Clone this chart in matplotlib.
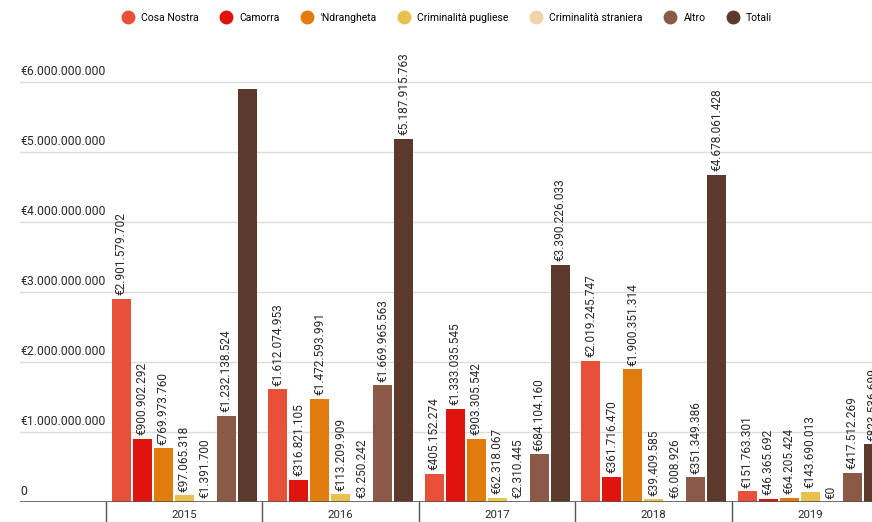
import numpy as np
import matplotlib
matplotlib.use("Agg")
from matplotlib import pyplot as plt
from matplotlib import font_manager
from matplotlib.lines import Line2D
import matplotlib.transforms as mtransforms

# pick a narrow-ish font if available
names = set(f.name for f in font_manager.fontManager.ttflist)
fam = ['Liberation Sans Narrow', 'DejaVu Sans'] if 'Liberation Sans Narrow' in names else ['Roboto', 'DejaVu Sans']
plt.rcParams['font.family'] = fam

years = ['2015', '2016', '2017', '2018', '2019']
series = ['Cosa Nostra', 'Camorra', "'Ndrangheta", 'Criminalità pugliese',
          'Criminalità straniera', 'Altro', 'Totali']
colors = ['#e8503a', '#e0140f', '#e07b0c', '#e8c14f', '#f2d2aa', '#8b5a47', '#5b3a2b']

cosa_nostra = [2901579702, 1612074953, 405152274, 2019245747, 151763301]
camorra = [900902292, 316821105, 1333035545, 361716470, 46365692]
ndrangheta = [769973760, 1472593991, 903305542, 1900351314, 64205424]
pugliese = [97065318, 113209909, 62318067, 39409585, 143690013]
straniera = [1391700, 3250242, 2310445, 6008926, 0]
altro = [1232138524, 1669965563, 684104160, 351349386, 417512269]
totali = [5903051296, 5187915763, 3390226033, 4678061428, 823536699]
values = [cosa_nostra, camorra, ndrangheta, pugliese, straniera, altro, totali]

# Totali 2015 label is not visible in the original
hide_label = {(6, 0)}

yticks = [0, 1e9, 2e9, 3e9, 4e9, 5e9, 6e9]
ytick_labels = ['0', '€1.000.000.000', '€2.000.000.000', '€3.000.000.000',
                '€4.000.000.000', '€5.000.000.000', '€6.000.000.000']


def euro(v):
    return '€' + f'{int(v):,}'.replace(',', '.')


fig = plt.figure(figsize=(8.72, 5.22), dpi=100)
ax = fig.add_axes((20 / 872, 20 / 522, 1 - 20 / 872, 462 / 522))

x = np.arange(len(years))
step = 0.1342
width = 0.121
txtcol = '#2a2a2a'

for i, (name, vals) in enumerate(zip(series, values)):
    xs = x + (i - 3) * step
    ax.bar(xs, vals, width=width, color=colors[i], zorder=3, clip_on=True)
    for j, v in enumerate(vals):
        if (i, j) in hide_label:
            continue
        ax.annotate(euro(v), (xs[j], v), xytext=(0, 2.5), textcoords='offset points',
                    rotation=90, ha='center', va='bottom', fontsize=8.6,
                    color=txtcol, zorder=4, annotation_clip=False, clip_on=True)

ax.set_xlim(-1.0495, 4.395)
ax.set_ylim(0, 6.6e9)

for s in ax.spines.values():
    s.set_visible(False)
ax.set_xticks([])
ax.set_yticks([])

# gridlines and y labels sitting above them
for t, lab in zip(yticks, ytick_labels):
    if t > 0:
        ax.axhline(t, color='#dcdcdc', lw=1, zorder=1)
    ax.annotate(lab, (0, t), xycoords=('axes fraction', 'data'), xytext=(0, 3),
                textcoords='offset points', ha='left', va='bottom',
                fontsize=8.8, color=txtcol)

# baseline and group separators
ax.axhline(0, color='#555555', lw=1.2, zorder=5)
trans = mtransforms.blended_transform_factory(ax.transData, ax.transAxes)
for b in np.arange(-0.5, 5, 1.0):
    ax.plot([b, b], [0, -0.06], color='#555555', lw=1, transform=trans, clip_on=False)
for xi, y in zip(x, years):
    ax.text(xi, -0.028, y, transform=trans, ha='center', va='center',
            fontsize=8.2, color=txtcol)

handles = [Line2D([], [], marker='o', ls='none', markersize=9, color=c) for c in colors]
fig.legend(handles, series, loc='center', bbox_to_anchor=(0.51, 0.966), ncol=7,
           frameon=False, fontsize=7.5, handletextpad=0.3, columnspacing=1.6)

fig.savefig('out.png', dpi=100)
